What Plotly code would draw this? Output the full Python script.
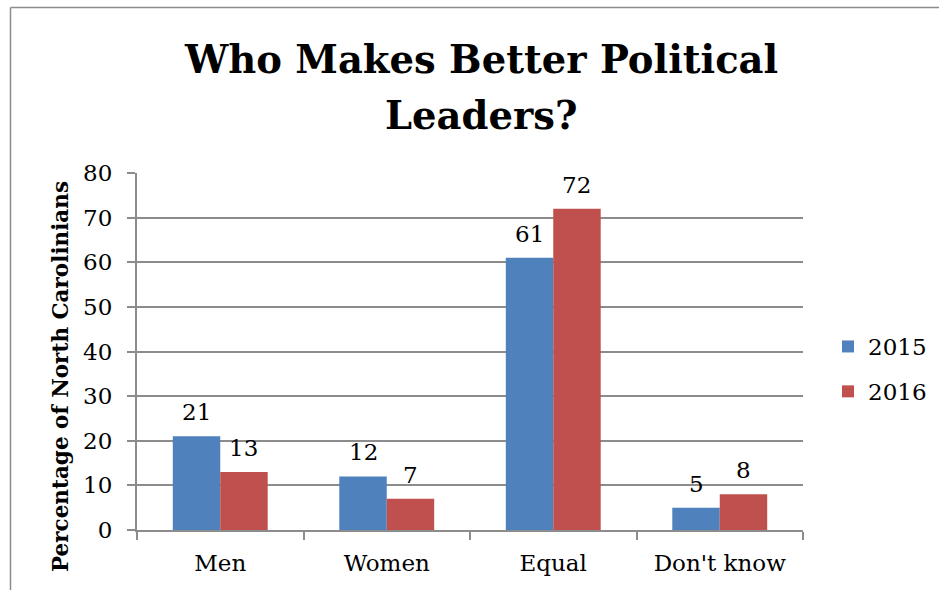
import plotly.graph_objects as go

categories = ["Men", "Women", "Equal", "Don't know"]
values_2015 = [21, 12, 61, 5]
values_2016 = [13, 7, 72, 8]
series_names = ["2015", "2016"]
series_colors = ["#4F81BD", "#C0504D"]
y_ticks = [0, 10, 20, 30, 40, 50, 60, 70, 80]
title_lines = ["Who Makes Better Political", "Leaders?"]

FONT = "DejaVu Serif"
W, H = 939, 590
L, R, T, B = 137, 136, 173, 60
pw = W - L - R
ph = H - T - B
BARGAP = 0.43

fig = go.Figure()
series = [values_2015, values_2016]
for name, vals, col in zip(series_names, series, series_colors):
    fig.add_trace(go.Bar(
        x=categories, y=vals, name=name, marker_color=col,
        marker_line_width=0, legendgroup=name,
    ))

# data labels placed above each bar via the axis scales
bw = (1 - BARGAP) / 2
for si, vals in enumerate(series):
    off = (si - 0.5) * bw
    for ci, v in enumerate(vals):
        fig.add_annotation(x=ci + off, y=v, xref="x", yref="y",
                           text=str(v), showarrow=False,
                           yanchor="bottom", yshift=9,
                           font=dict(family=FONT, size=23, color="black"))

def px_x(p):
    return (p - L) / pw

def px_y(p):
    return (H - B - p) / ph

fig.update_layout(
    width=W, height=H,
    margin=dict(l=L, r=R, t=T, b=B, autoexpand=False),
    paper_bgcolor="white", plot_bgcolor="white",
    barmode="group", bargap=BARGAP, bargroupgap=0,
    font=dict(family=FONT, size=23, color="black"),
    xaxis=dict(type="category", showgrid=False, showline=True,
               linecolor="#8c8c8c", linewidth=2, ticks="outside",
               tickson="boundaries", ticklen=8, tickcolor="#8c8c8c",
               tickwidth=2, ticklabelstandoff=11,
               tickfont=dict(family=FONT, size=23)),
    yaxis=dict(range=[0, 80], tickvals=y_ticks, showgrid=True,
               gridcolor="#8c8c8c", gridwidth=2, showline=True,
               linecolor="#8c8c8c", linewidth=2, ticks="outside",
               ticklen=8, tickcolor="#8c8c8c", tickwidth=2,
               ticklabelstandoff=10,
               zeroline=False, tickfont=dict(family=FONT, size=23)),
    legend=dict(x=px_x(828), y=px_y(325), xanchor="left", yanchor="top",
                font=dict(family=FONT, size=23), traceorder="grouped",
                tracegroupgap=12, bgcolor="rgba(0,0,0,0)"),
    showlegend=True,
)

for line, cy in zip(title_lines, [59, 116]):
    fig.add_annotation(text="<b>" + line + "</b>", xref="paper", yref="paper",
                       x=px_x(481), y=px_y(cy), xanchor="center",
                       yanchor="middle", showarrow=False,
                       font=dict(family=FONT, size=38.5, color="black"))

fig.add_annotation(text="<b>Percentage of North Carolinians</b>",
                   textangle=-90, xref="paper", yref="paper",
                   x=px_x(60), y=px_y(377), xanchor="center",
                   yanchor="middle", showarrow=False,
                   font=dict(family=FONT, size=21.5, color="black"))

# outer chart frame
fig.add_shape(type="line", xref="paper", yref="paper",
              x0=px_x(10.5), y0=px_y(600), x1=px_x(10.5), y1=px_y(7.5),
              line=dict(color="#8c8c8c", width=1.5))
fig.add_shape(type="line", xref="paper", yref="paper",
              x0=px_x(10.5), y0=px_y(7.5), x1=px_x(950), y1=px_y(7.5),
              line=dict(color="#8c8c8c", width=1.5))

fig.write_html("out.html")
